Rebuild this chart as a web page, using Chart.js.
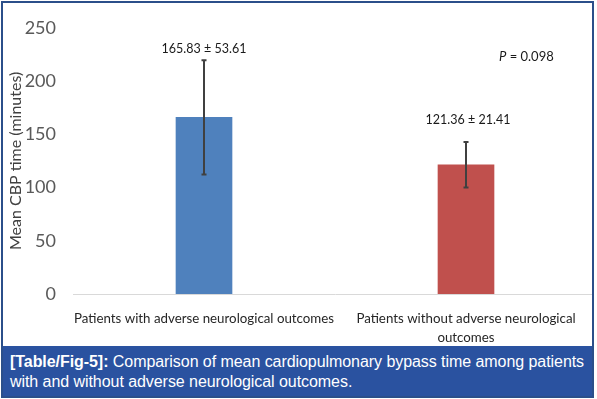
<!DOCTYPE html>
<html>
<head>
<meta charset="utf-8">
<script src="https://cdn.jsdelivr.net/npm/chart.js@4/dist/chart.umd.min.js"></script>
<style>
  html, body { margin: 0; padding: 0; background: #fff; }
  body { width: 597px; height: 399px; position: relative; overflow: hidden; }
  #wrap { position: absolute; left: 0; top: 0; width: 597px; height: 346px; }
  #frame { position: absolute; left: 1px; top: 1px; width: 589px; height: 393px; border: 2px solid #2B4F8A; box-sizing: content-box; pointer-events: none; }
  #mask { position: absolute; left: 594px; top: 0; width: 3px; height: 399px; background: #fff; }
  #caption { position: absolute; left: 2px; top: 346px; width: 591px; height: 50px; background: #2A52A0; color: #fff;
    font-family: "Liberation Sans", Arial, sans-serif; font-size: 16px; line-height: 20px; padding: 6px 0 0 8px; box-sizing: border-box; letter-spacing: -0.06px; }
  #caption b { font-weight: bold; }
</style>
</head>
<body>
<div id="wrap"><canvas id="c" width="597" height="346"></canvas></div>
<div id="mask"></div>
<div id="caption"><b>[Table/Fig-5]:</b> Comparison of mean cardiopulmonary bypass time among patients<br>with and without adverse neurological outcomes.</div>
<div id="frame"></div>
<script>
const categories = [
  ["Patients with adverse neurological outcomes"],
  ["Patients without adverse neurological", "outcomes"]
];
const meanValues = [165.83, 121.36];
const sdValues = [53.61, 21.41];
const valueLabels = ["165.83 \u00B1 53.61", "121.36 \u00B1 21.41"];
const barColors = ["#4F81BD", "#C0504D"];
const yTicks = [0, 50, 100, 150, 200, 250];
const pValueText = "0.098";

const FONT = 'Lato, "Liberation Sans", sans-serif';

const errorBarPlugin = {
  id: 'errorBars',
  afterDatasetsDraw(chart) {
    const ctx = chart.ctx;
    const x = chart.scales.x, y = chart.scales.y;
    ctx.save();
    ctx.strokeStyle = '#404040';
    ctx.lineWidth = 2;
    meanValues.forEach((m, i) => {
      const cx = x.getPixelForValue(i);
      const yTop = y.getPixelForValue(m + sdValues[i]);
      const yBot = y.getPixelForValue(m - sdValues[i]);
      ctx.beginPath();
      ctx.moveTo(cx, yTop); ctx.lineTo(cx, yBot);
      ctx.moveTo(cx - 2.5, yTop); ctx.lineTo(cx + 2.5, yTop);
      ctx.moveTo(cx - 2.5, yBot); ctx.lineTo(cx + 2.5, yBot);
      ctx.stroke();
    });
    const offsets = [11, 22];
    ctx.fillStyle = '#1a1a1a';
    ctx.font = '12.5px ' + FONT;
    ctx.textAlign = 'center';
    ctx.textBaseline = 'middle';
    valueLabels.forEach((t, i) => {
      const cx = x.getPixelForValue(i);
      const yTop = y.getPixelForValue(meanValues[i] + sdValues[i]);
      ctx.fillText(t, cx + (i === 1 ? 2 : 0), yTop - offsets[i]);
    });
    const px = chart.chartArea.right - 98;
    const py = y.getPixelForValue(223);
    ctx.textAlign = 'left';
    ctx.font = 'italic 13px ' + FONT;
    ctx.fillText('P', px, py);
    const pw = ctx.measureText('P').width;
    ctx.font = '13px ' + FONT;
    ctx.fillText(' = ' + pValueText, px + pw, py);
    ctx.restore();
  }
};

new Chart(document.getElementById('c'), {
  type: 'bar',
  data: {
    labels: categories,
    datasets: [{
      data: meanValues,
      backgroundColor: barColors,
      borderWidth: 0,
      barThickness: 56
    }]
  },
  options: {
    responsive: false,
    animation: false,
    devicePixelRatio: 1,
    layout: { padding: { top: 18, right: 0, left: 0, bottom: 0 } },
    plugins: { legend: { display: false }, tooltip: { enabled: false } },
    scales: {
      x: {
        grid: { display: false, drawTicks: false },
        border: { display: true, color: '#D9D9D9', width: 1 },
        ticks: {
          color: '#262626',
          font: { family: FONT, size: 13.3, lineHeight: 1.43 },
          padding: 15,
          maxRotation: 0,
          autoSkip: false
        },
        afterFit(s) { s.height = 52; }
      },
      y: {
        min: 0, max: 250,
        afterBuildTicks(s) { s.ticks = yTicks.map(v => ({ value: v })); },
        grid: { display: false, drawTicks: false },
        border: { display: false },
        ticks: {
          color: '#595959',
          font: { family: FONT, size: 18 },
          padding: 17
        },
        title: {
          display: true,
          text: 'Mean CBP time (minutes)',
          color: '#404040',
          font: { family: FONT, size: 16 },
          padding: { top: 6, bottom: 0 }
        },
        afterFit(s) { s.width = 73; }
      }
    }
  },
  plugins: [errorBarPlugin]
});
</script>
</body>
</html>
